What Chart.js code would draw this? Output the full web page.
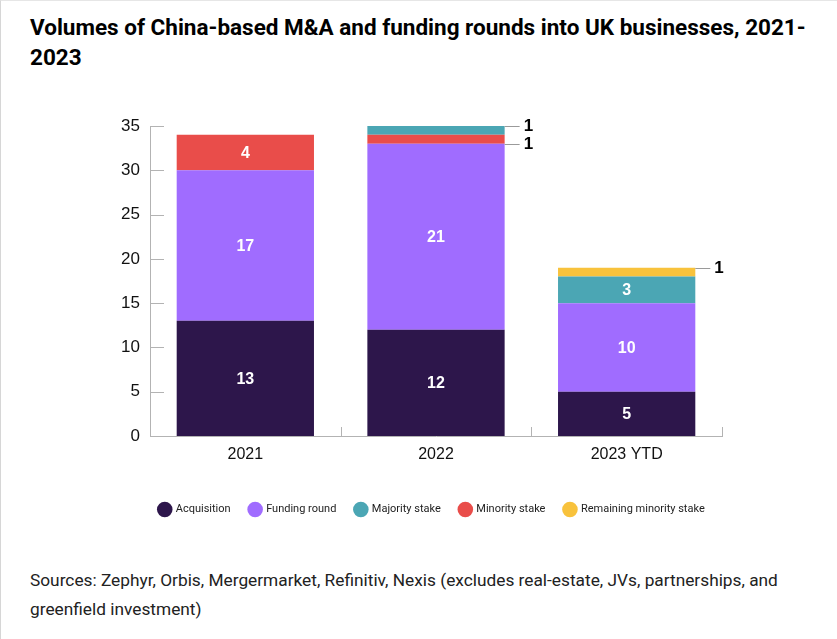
<!DOCTYPE html>
<html>
<head>
<meta charset="utf-8">
<script src="https://cdn.jsdelivr.net/npm/chart.js@4"></script>
<style>
  html, body { margin: 0; padding: 0; background: #fff; }
  body {
    width: 836px; height: 638px; position: relative; overflow: hidden;
    border-left: 1px solid #d6d6d6; border-top: 1px solid #e6e6e6;
  }
  .title {
    position: absolute; left: 29px; top: 11px;
    font-family: Roboto, sans-serif; font-weight: 700; font-size: 22.5px;
    line-height: 30px; color: #000; white-space: nowrap;
  }
  .chart-box { position: absolute; left: -1px; top: 95px; width: 837px; height: 439px; }
  .source {
    position: absolute; left: 29px; top: 565px;
    font-family: Roboto, sans-serif; font-size: 17.3px; line-height: 29px; color: #222;
    white-space: nowrap;
  }
</style>
</head>
<body>

<div class="title">Volumes of China-based M&amp;A and funding rounds into UK businesses, 2021-<br>2023</div>

<div class="chart-box"><canvas id="dealsChart"></canvas></div>

<div class="source">Sources: Zephyr, Orbis, Mergermarket, Refinitiv, Nexis (excludes real-estate, JVs, partnerships, and<br>greenfield investment)</div>

<script>
/* =========================
   DATA
========================= */

const years = ["2021", "2022", "2023 YTD"];

const acquisition = [13, 12, 5];
const fundingRound = [17, 21, 10];
const minorityStake = [4, 1, 0];
const majorityStake = [0, 1, 3];
const remainingMinority = [0, 0, 1];

const yTicks = [0, 5, 10, 15, 20, 25, 30, 35];

/* stacking order bottom -> top, legend shows majority before minority */
const legendRank = [0, 1, 3, 2, 4];

/* =========================
   INSIDE TICKS + LABELS
========================= */

const markPlugin = {

    id: "marks",

    afterLayout(chart){

        // slide the legend so it sits under the plot area, not the canvas
        const lg = chart.legend;
        if(lg){
            const area = chart.chartArea;
            const shift = (area.left + area.right) / 2 - (lg.left + lg.right) / 2 - 4;
            lg.left += shift;
            lg.right += shift;
        }

    },

    afterDatasetsDraw(chart){

        const ctx = chart.ctx;
        const area = chart.chartArea;
        const x = chart.scales.x;
        const y = chart.scales.y;

        ctx.save();
        ctx.strokeStyle = "#b3b3b3";
        ctx.lineWidth = 1;

        y.ticks.forEach(t => {
            const py = Math.round(y.getPixelForValue(t.value)) + 0.5;
            ctx.beginPath();
            ctx.moveTo(area.left, py);
            ctx.lineTo(area.left + 14, py);
            ctx.stroke();
        });

        for(let i = 1; i <= years.length; i++){
            const px = Math.round(x.getPixelForValue(i - 0.5)) + 0.5;
            ctx.beginPath();
            ctx.moveTo(px, area.bottom);
            ctx.lineTo(px, area.bottom - 9);
            ctx.stroke();
        }

        const sets = chart.data.datasets;

        sets.forEach((ds, d) => {

            const meta = chart.getDatasetMeta(d);

            meta.data.forEach((bar, i) => {

                const v = ds.data[i];
                if(!v) return;

                if(v >= 2){
                    ctx.fillStyle = "#ffffff";
                    ctx.font = "bold 16px 'Liberation Sans', Arial, sans-serif";
                    ctx.textAlign = "center";
                    ctx.textBaseline = "middle";
                    ctx.fillText(v, bar.x, (bar.y + bar.base) / 2 + 1);
                    return;
                }

                let top = true;
                for(let k = d + 1; k < sets.length; k++){
                    if(sets[k].data[i]) top = false;
                }

                const ly = Math.round(top ? bar.y : bar.base) + 0.5;
                const lx = bar.x + bar.width / 2;

                ctx.strokeStyle = "#9a9a9a";
                ctx.beginPath();
                ctx.moveTo(lx, ly);
                ctx.lineTo(lx + 15, ly);
                ctx.stroke();

                ctx.fillStyle = "#000000";
                ctx.font = "bold 17px 'Liberation Sans', Arial, sans-serif";
                ctx.textAlign = "left";
                ctx.textBaseline = "middle";
                ctx.fillText(v, lx + 19, ly);

            });

        });

        ctx.restore();

    }

};

/* =========================
   CHART
========================= */

document.addEventListener("DOMContentLoaded", () => {

    const el = document.getElementById("dealsChart");

    new Chart(el, {

        type: "bar",

        data: {

            labels: years,

            datasets: [
                { label: "Acquisition", data: acquisition, backgroundColor: "#2d164b" },
                { label: "Funding round", data: fundingRound, backgroundColor: "#a06cff" },
                { label: "Minority stake", data: minorityStake, backgroundColor: "#e94d4a" },
                { label: "Majority stake", data: majorityStake, backgroundColor: "#4ba6b4" },
                { label: "Remaining minority stake", data: remainingMinority, backgroundColor: "#f8c23c" }
            ]

        },

        options: {

            responsive: true,
            maintainAspectRatio: false,
            animation: false,

            datasets: {
                bar: {
                    categoryPercentage: 1,
                    barPercentage: 0.72,
                    borderWidth: 0
                }
            },

            layout: {
                padding: { top: 30, right: 115, left: 0, bottom: 10 }
            },

            plugins: {

                legend: {
                    position: "bottom",
                    labels: {
                        usePointStyle: true,
                        pointStyle: "circle",
                        boxWidth: 12,
                        boxHeight: 12,
                        padding: 19,
                        color: "#222",
                        font: { family: "Roboto, sans-serif", size: 11 },
                        sort: (a, b) => legendRank[a.datasetIndex] - legendRank[b.datasetIndex]
                    }
                },

                tooltip: { enabled: false }

            },

            scales: {

                x: {
                    stacked: true,
                    grid: { display: false, drawTicks: false },
                    border: { display: true, color: "#b3b3b3" },
                    ticks: {
                        padding: 9,
                        color: "#111",
                        font: { family: "'Liberation Sans', Arial, sans-serif", size: 16 }
                    },
                    afterFit: scale => { scale.height = 49; }
                },

                y: {
                    stacked: true,
                    min: 0,
                    max: 35,
                    grid: { display: false, drawTicks: false },
                    border: { display: true, color: "#b3b3b3" },
                    afterBuildTicks: scale => {
                        scale.ticks = yTicks.map(v => ({ value: v }));
                    },
                    ticks: {
                        padding: 10,
                        color: "#111",
                        font: { family: "'Liberation Sans', Arial, sans-serif", size: 17 }
                    },
                    afterFit: scale => { scale.width = 150; }
                }

            }

        },

        plugins: [markPlugin]

    });

});
</script>

</body>
</html>
